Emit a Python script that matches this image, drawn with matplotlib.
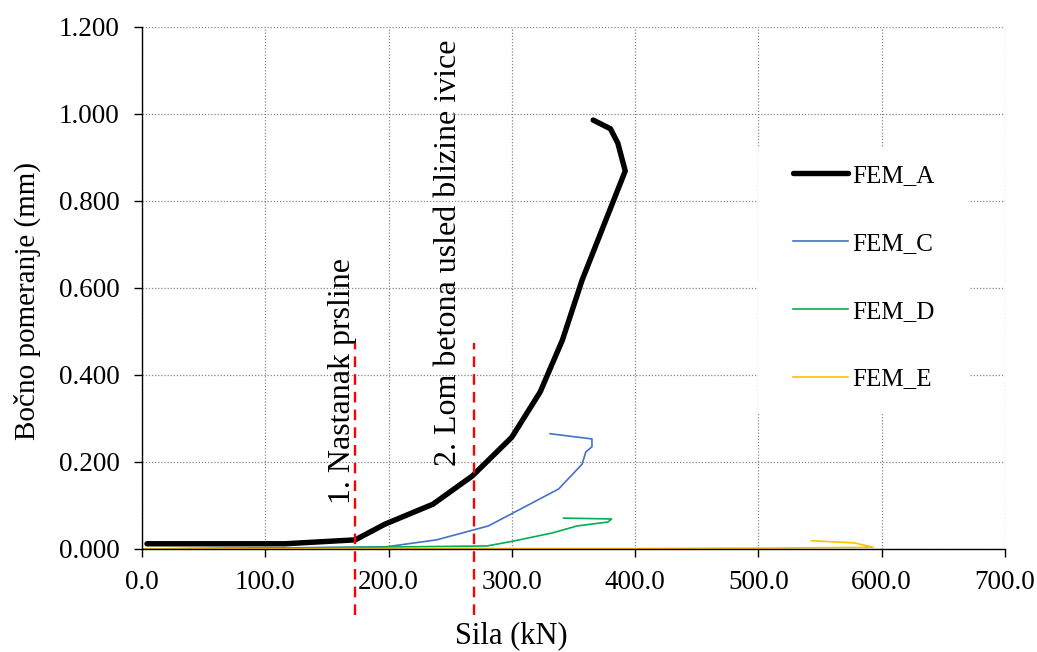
import matplotlib
matplotlib.use("Agg")
import matplotlib.pyplot as plt
from matplotlib.patches import Rectangle

# Sila (kN) / Bočno pomeranje (mm), očitano sa slike
fem_a_x = [4, 116, 173, 197, 236, 268, 300, 323, 341, 357, 392, 386, 380, 366]
fem_a_y = [0.012, 0.012, 0.021, 0.057, 0.103, 0.168, 0.257, 0.361, 0.480, 0.618, 0.869, 0.933, 0.966, 0.986]

fem_c_x = [0, 100, 198, 239, 281, 338, 357, 360, 365, 365, 331]
fem_c_y = [0.0, 0.002, 0.005, 0.021, 0.053, 0.138, 0.195, 0.223, 0.235, 0.253, 0.265]

fem_d_x = [0, 150, 280, 301, 333, 353, 378, 381, 342]
fem_d_y = [0.0, 0.003, 0.007, 0.018, 0.037, 0.053, 0.062, 0.069, 0.071]

fem_e_x = [0, 200, 400, 500, 593, 578, 543]
fem_e_y = [0.0, 0.001, 0.001, 0.002, 0.004, 0.014, 0.019]

marker_x = [173, 269]
marker_labels = ["1. Nastanak prsline", "2. Lom betona usled blizine ivice"]

plt.rcParams["font.family"] = ["Liberation Serif", "DejaVu Serif"]

fig = plt.figure(figsize=(10.37, 6.52), dpi=100)
ax = fig.add_axes([0.137, 0.158, 0.832, 0.8006])

ax.plot(fem_a_x, fem_a_y, color="black", lw=3.9, solid_capstyle="round", label="FEM_A")
ax.plot(fem_c_x, fem_c_y, color="#4472C4", lw=1.2, label="FEM_C")
ax.plot(fem_d_x, fem_d_y, color="#00B050", lw=1.2, label="FEM_D")
ax.plot(fem_e_x, fem_e_y, color="#FFC000", lw=1.2, label="FEM_E")

# vertikalne oznake (izlaze ispod ose)
ax.vlines(marker_x, -0.152, 0.474, colors="red", lw=1.7,
          linestyles=(0, (4.5, 3)), clip_on=False, zorder=5)
ax.text(163, 0.386, marker_labels[0], rotation=90, fontsize=23,
        ha="center", va="center")
ax.text(249, 0.680, marker_labels[1], rotation=90, fontsize=23,
        ha="center", va="center")

ax.set_xlim(0, 700)
ax.set_ylim(0, 1.2)
ax.set_xticks(range(0, 701, 100))
ax.set_xticklabels([f"{v:.1f}" for v in range(0, 701, 100)])
yt = [i * 0.2 for i in range(7)]
ax.set_yticks(yt)
ax.set_yticklabels([f"{v:.3f}" for v in yt])
ax.tick_params(labelsize=19.5, direction="out", length=6, width=1.0)
ax.tick_params(axis="x", pad=9)
ax.tick_params(axis="y", pad=10)

ax.grid(True, color="#888888", linestyle=(0, (1, 1.5)), lw=0.9)
ax.set_axisbelow(True)
for s in ("top", "right"):
    ax.spines[s].set_visible(False)
for s in ("left", "bottom"):
    ax.spines[s].set_linewidth(1.0)

ax.set_xlabel("Sila (kN)", fontsize=22)
ax.xaxis.set_label_coords(0.4276, -0.138)
ax.set_ylabel("Bočno pomeranje (mm)", fontsize=21)
ax.yaxis.set_label_coords(-0.117, 0.475)

# bijela podloga legende (prekriva mrežu)
ax.add_patch(Rectangle((0.7138, 0.2625), 0.2456, 0.5055, transform=ax.transAxes,
                       facecolor="white", edgecolor="none", zorder=1))
leg = ax.legend(loc="upper left", bbox_to_anchor=(0.7543, 0.7363), fontsize=18,
                frameon=False, labelspacing=1.81, handlelength=2.2,
                handletextpad=0.16, borderpad=0, borderaxespad=0)

fig.savefig("out.png", dpi=100)
